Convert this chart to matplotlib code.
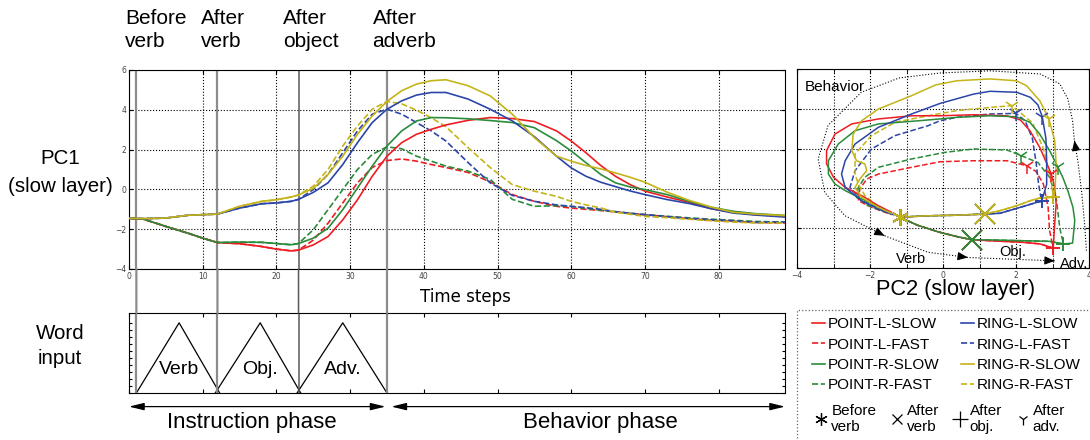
import matplotlib
matplotlib.use('Agg')
import matplotlib.pyplot as plt
import matplotlib.transforms as mtransforms
from matplotlib.lines import Line2D
from matplotlib.patches import Rectangle, ConnectionPatch
from matplotlib.ticker import MultipleLocator
import numpy as np

plt.rcParams['font.family'] = ['Liberation Sans', 'DejaVu Sans']

# ---- PC1 time courses (main panel) ----
t = [0, 2, 5, 8, 10, 12, 15, 18, 20, 22, 23, 25, 27, 29, 31, 33, 35, 37, 39,
     41, 43, 46, 49, 52, 55, 58, 60, 62, 64, 66, 68, 70, 73, 76, 79, 82, 85, 89]

pc1_point_l_slow = [-1.45, -1.5, -1.86, -2.2, -2.45, -2.67, -2.73, -2.87, -3.0, -3.09, -3.05,
                    -2.79, -2.37, -1.53, -0.52, 0.66, 1.67, 2.35, 2.77,
                    3.02, 3.24, 3.47, 3.61, 3.56, 3.41, 2.94, 2.43, 1.84, 1.2, 0.66, 0.24, -0.09,
                    -0.38, -0.65, -0.97, -1.15, -1.27, -1.36]
pc1_point_l_fast = [-1.45, -1.5, -1.86, -2.2, -2.45, -2.67, -2.73, -2.87, -3.0, -3.09, -3.05,
                    -2.55, -1.7, -0.68, 0.33, 1.1, 1.45, 1.53, 1.42,
                    1.25, 1.1, 0.85, 0.38, -0.26, -0.6, -0.85, -0.94, -1.0, -1.06, -1.13, -1.2, -1.27,
                    -1.37, -1.47, -1.55, -1.6, -1.66, -1.69]
pc1_point_r_slow = [-1.45, -1.5, -1.86, -2.2, -2.45, -2.67, -2.65, -2.66, -2.72, -2.78, -2.72,
                    -2.45, -1.95, -1.02, 0.07, 1.17, 2.18, 2.94, 3.44,
                    3.61, 3.6, 3.55, 3.46, 3.36, 3.1, 2.45, 1.93, 1.34, 0.75, 0.33, 0.12, -0.01,
                    -0.26, -0.6, -0.9, -1.1, -1.22, -1.31]
pc1_point_r_fast = [-1.45, -1.5, -1.86, -2.2, -2.45, -2.67, -2.65, -2.66, -2.72, -2.78, -2.72,
                    -2.03, -1.02, -0.01, 1.0, 1.76, 2.14, 2.04, 1.67,
                    1.42, 1.17, 0.92, 0.5, -0.5, -0.85, -0.82, -0.85, -0.95, -1.05, -1.12, -1.2, -1.27,
                    -1.35, -1.43, -1.5, -1.55, -1.61, -1.64]
pc1_ring_l_slow = [-1.45, -1.47, -1.44, -1.3, -1.27, -1.24, -0.94, -0.72, -0.68, -0.6, -0.5,
                   -0.15, 0.33, 1.25, 2.35, 3.36, 4.03, 4.45, 4.74,
                   4.87, 4.87, 4.54, 4.03, 3.44, 2.65, 1.67, 1.08, 0.66, 0.36, 0.14, -0.08, -0.26,
                   -0.51, -0.71, -0.97, -1.19, -1.29, -1.39]
pc1_ring_l_fast = [-1.45, -1.47, -1.44, -1.3, -1.27, -1.24, -0.94, -0.72, -0.68, -0.6, -0.5,
                   -0.01, 0.75, 1.84, 2.94, 3.78, 4.03, 3.78, 3.36,
                   2.94, 2.43, 1.35, 0.33, -0.3, -0.6, -0.78, -0.85, -0.92, -1.0, -1.12, -1.2, -1.27,
                   -1.37, -1.46, -1.53, -1.58, -1.66, -1.64]
pc1_ring_r_slow = [-1.45, -1.47, -1.44, -1.3, -1.27, -1.24, -0.85, -0.6, -0.52, -0.38, -0.28,
                   0.05, 0.75, 1.67, 2.77, 3.69, 4.42, 4.96, 5.29,
                   5.46, 5.51, 5.21, 4.7, 3.78, 2.6, 1.67, 1.42, 1.2, 1.03, 0.83, 0.61, 0.36,
                   -0.14, -0.55, -0.89, -1.15, -1.24, -1.32]
pc1_ring_r_fast = [-1.45, -1.47, -1.44, -1.3, -1.27, -1.24, -0.85, -0.6, -0.52, -0.38, -0.28,
                   0.16, 1.0, 2.18, 3.19, 4.03, 4.42, 4.3, 3.98,
                   3.6, 3.15, 2.1, 1.1, 0.24, -0.09, -0.35, -0.6, -0.78, -0.93, -1.15, -1.25, -1.36,
                   -1.42, -1.5, -1.58, -1.64, -1.69, -1.69]

# ---- PC2 vs PC1 trajectories (right panel) ----
traj_point_l_slow = ([-1.18, -0.7, -0.1, 0.4, 0.79, 1.29, 2.2, 2.66, 2.9, 3.02, 3.06, 3.1, 3.06, 2.97,
                      2.65, 2.38, 2.12, 1.75, 0.84, -0.08, -0.86, -1.77, -2.5, -2.96, -3.19, -3.19,
                      -3.0, -2.68, -2.23, -1.77, -1.41],
                     [-1.45, -1.85, -2.2, -2.43, -2.58, -2.63, -2.71, -2.79, -2.93, -3.0, -1.79, -0.78,
                      0.05, 0.72, 2.06, 2.9, 3.44, 3.65, 3.7, 3.65, 3.65, 3.49, 3.24, 2.73, 1.9, 1.23,
                      0.56, 0.05, -0.36, -0.87, -1.2])
traj_point_l_fast = ([-1.18, -0.7, -0.1, 0.4, 0.79, 1.29, 2.2, 2.66, 2.9, 3.02, 2.92, 2.88, 2.75, 2.55,
                      2.29, 1.75, 0.84, -0.08, -0.86, -1.77, -2.09, -2.28, -2.32, -1.96, -1.41],
                     [-1.45, -1.85, -2.2, -2.43, -2.58, -2.63, -2.71, -2.79, -2.93, -3.0, -2.12, -0.95,
                      0.22, 0.85, 1.14, 1.39, 1.39, 1.34, 1.06, 0.72, 0.47, -0.03, -0.62, -0.95, -1.32])
traj_point_r_slow = ([-1.18, -0.7, -0.1, 0.4, 0.79, 1.29, 2.2, 2.92, 3.3, 3.55, 3.61, 3.56, 3.42, 3.28,
                      3.14, 2.92, 2.65, 2.38, 2.01, 1.29, 0.38, -0.08, -0.86, -1.77, -2.41, -2.87,
                      -3.14, -3.14, -2.96, -2.68, -2.2, -1.77, -1.41],
                     [-1.45, -1.85, -2.2, -2.43, -2.58, -2.59, -2.63, -2.66, -2.79, -2.75, -1.62, -0.95,
                      -0.11, 0.56, 1.1, 1.9, 2.73, 3.32, 3.6, 3.65, 3.57, 3.49, 3.37, 3.24, 2.9, 2.23,
                      1.39, 0.72, 0.22, -0.11, -0.55, -0.95, -1.27])
traj_point_r_fast = ([-1.18, -0.7, -0.1, 0.4, 0.79, 1.29, 2.2, 2.92, 3.3, 3.2, 3.1, 2.92, 2.6, 2.15,
                      1.75, 0.84, 0.05, -0.86, -1.77, -2.14, -2.32, -2.37, -2.05, -1.41],
                     [-1.45, -1.85, -2.2, -2.43, -2.58, -2.59, -2.63, -2.66, -2.79, -2.0, -0.45, 0.56,
                      1.3, 1.64, 1.93, 1.98, 1.81, 1.48, 1.06, 0.56, 0.05, -0.45, -0.87, -1.29])
traj_ring_l_slow = ([-1.18, -0.5, 0.3, 1.15, 1.56, 2.12, 2.57, 2.70, 2.84, 2.84, 2.82, 2.72, 2.6, 2.39,
                     2.02, 1.29, 0.84, -0.08, -0.86, -1.77, -2.41, -2.68, -2.78, -2.68, -2.23, -1.77, -1.36],
                    [-1.45, -1.38, -1.35, -1.29, -1.25, -0.95, -0.7, -0.65, 0.2, 1.4, 2.5, 3.6, 4.2, 4.58,
                     4.83, 4.88, 4.74, 4.27, 3.74, 3.07, 2.23, 1.39, 0.72, 0.05, -0.62, -1.04, -1.32])
traj_ring_l_fast = ([-1.18, -0.5, 0.3, 1.15, 1.56, 2.12, 2.57, 2.70, 2.62, 2.55, 2.45, 2.25, 2.0, 1.29,
                     0.38, -0.08, -0.41, -1.32, -1.96, -2.41, -2.55, -2.23, -1.41],
                    [-1.45, -1.38, -1.35, -1.29, -1.25, -0.95, -0.7, -0.65, 0.2, 1.3, 2.5, 3.4, 3.77, 3.74,
                     3.57, 3.4, 3.15, 2.65, 1.98, 0.89, 0.05, -0.62, -1.29])
traj_ring_r_slow = ([-1.18, -0.5, 0.3, 1.15, 1.56, 2.02, 2.39, 2.66, 3.02, 3.07, 3.1, 3.06, 2.9, 2.65,
                     2.29, 2.01, 1.29, 0.38, -0.2, -0.86, -1.77, -2.23, -2.46, -2.5, -2.37, -2.14,
                     -2.09, -2.28, -2.41, -2.23, -1.77, -1.41],
                    [-1.45, -1.38, -1.35, -1.29, -1.12, -0.87, -0.62, -0.48, -0.45, -0.11, 1.23, 2.4, 3.5,
                     4.41, 5.16, 5.41, 5.5, 5.41, 5.2, 4.66, 3.99, 3.4, 2.73, 1.9, 1.39, 1.23, 0.89,
                     0.47, 0.05, -0.45, -0.95, -1.25])
traj_ring_r_fast = ([-1.18, -0.5, 0.3, 1.15, 1.56, 2.02, 2.39, 2.66, 3.02, 2.95, 2.75, 2.45, 1.88, 1.29,
                     0.38, -0.41, -1.32, -1.96, -2.41, -2.41, -2.32, -2.14, -1.77, -1.41],
                    [-1.45, -1.38, -1.35, -1.29, -1.12, -0.87, -0.62, -0.48, -0.45, 0.5, 2.0, 3.3, 4.16,
                     4.07, 3.91, 3.65, 3.32, 2.65, 1.73, 0.72, 0.22, -0.36, -0.95, -1.29])

# index of trajectory point at: after verb, after object, after adverb
marks_point_l_slow = [4, 9, 13]
marks_point_l_fast = [4, 9, 14]
marks_point_r_slow = [4, 8, 14]
marks_point_r_fast = [4, 8, 13]
marks_ring_l_slow = [3, 7, 11]
marks_ring_l_fast = [3, 7, 12]
marks_ring_r_slow = [3, 8, 12]
marks_ring_r_fast = [3, 8, 12]

# dotted guide loop in the PC plane
loop_pc2 = [3.93, 3.88, 3.8, 3.7, 3.6, 3.55, 3.42, 3.2, 2.66, 1.29, -0.08, -1.2, -2.24, -3.15,
            -3.42, -3.24, -2.69, -1.6, -0.41, 0.68, 1.78, 3.06]
loop_pc1 = [-3.13, -1.79, -0.2, 1.3, 2.4, 3.4, 4.5, 5.25, 5.75, 5.91, 5.8, 5.55, 4.83, 3.16,
            1.48, -0.2, -1.37, -2.38, -3.21, -3.47, -3.55, -3.64]
loop_arrow_idx = [4, 17, 19, 21]

# word input
word_labels = ['Verb', 'Obj.', 'Adv.']
word_t = [[1, 6.8, 12.3], [11.7, 17.8, 23.3], [22.8, 29.0, 35.0]]
word_amp = [0, 1, 0]
event_t = [1, 12, 23, 35]
event_labels = ['Before\nverb', 'After\nverb', 'After\nobject', 'After\nadverb']

series_labels = ['POINT-L-SLOW', 'POINT-L-FAST', 'POINT-R-SLOW', 'POINT-R-FAST',
                 'RING-L-SLOW', 'RING-L-FAST', 'RING-R-SLOW', 'RING-R-FAST']
RED, GREEN, BLUE, YEL = '#ee1d23', '#2a8b3b', '#2c45a8', '#c4b417'
series = [
    (pc1_point_l_slow, traj_point_l_slow, marks_point_l_slow, RED, '-'),
    (pc1_point_l_fast, traj_point_l_fast, marks_point_l_fast, RED, '--'),
    (pc1_point_r_slow, traj_point_r_slow, marks_point_r_slow, GREEN, '-'),
    (pc1_point_r_fast, traj_point_r_fast, marks_point_r_fast, GREEN, '--'),
    (pc1_ring_l_slow, traj_ring_l_slow, marks_ring_l_slow, BLUE, '-'),
    (pc1_ring_l_fast, traj_ring_l_fast, marks_ring_l_fast, BLUE, '--'),
    (pc1_ring_r_slow, traj_ring_r_slow, marks_ring_r_slow, YEL, '-'),
    (pc1_ring_r_fast, traj_ring_r_fast, marks_ring_r_fast, YEL, '--'),
]

W, H = 1090, 440
fig = plt.figure(figsize=(W / 100, H / 100), dpi=100)
ax = fig.add_axes([129 / W, 1 - 269 / H, 656 / W, 199 / H])
axw = fig.add_axes([129 / W, 1 - 393 / H, 656 / W, 80 / H])
axr = fig.add_axes([797 / W, 1 - 268 / H, 292 / W, 199 / H])

# ---- main panel ----
for i in [1, 3, 5, 7, 0, 2, 4, 6]:
    pc1, traj, marks, col, ls = series[i]
    ax.plot(t, pc1, color=col, ls=ls, lw=1.2, zorder=3)
ax.set_xlim(0, 89)
ax.set_ylim(-4, 6)
ax.xaxis.set_major_locator(MultipleLocator(10))
ax.yaxis.set_major_locator(MultipleLocator(2))
ax.grid(True, ls=':', color='k', lw=0.8)
ax.tick_params(direction='in', top=True, right=True, length=3, labelsize=5.5,
               labelcolor='#444', pad=2)
for lab in ax.get_xticklabels() + ax.get_yticklabels():
    lab.set_family('DejaVu Sans')
fig.text(465 / W, 1 - 297 / H, 'Time steps', ha='center', va='center', fontsize=12,
         family='DejaVu Sans')

# ---- word input panel ----
for wt, wl in zip(word_t, word_labels):
    axw.plot(wt, word_amp, color='k', lw=0.9)
    axw.text(wt[1], 0.33, wl, ha='center', va='center', fontsize=14)
axw.set_xlim(0, 89)
axw.set_ylim(0, 1.14)
axw.xaxis.set_major_locator(MultipleLocator(10))
axw.set_yticks(np.arange(0, 1.01, 0.1))
axw.tick_params(axis='x', direction='in', top=True, length=3, labelbottom=False)
axw.tick_params(axis='y', direction='in', right=True, length=2, labelleft=False)

for i, ev in enumerate(event_t):
    c = '#5a5a5a' if i == 2 else '#8c8c8c'
    lw = 1.1 if i == 2 else 1.6
    ax.axvline(ev, color=c, lw=lw, zorder=2)
    axw.axvline(ev, color=c, lw=lw, zorder=2)
    fig.add_artist(ConnectionPatch(xyA=(ev, -4), coordsA='data', axesA=ax,
                                   xyB=(ev, 1.14), coordsB='data', axesB=axw,
                                   color=c, lw=lw))

hdr = mtransforms.blended_transform_factory(ax.transData, fig.transFigure)
for ev_x, lab in zip([-0.5, 9.8, 20.95, 33.05], event_labels):
    ax.text(ev_x, 1 - 9 / H, lab, transform=hdr, ha='left', va='top', fontsize=15,
            linespacing=1.28)

fig.text(60 / W, 1 - 172 / H, 'PC1\n(slow layer)', ha='center', va='center', fontsize=14.8,
         linespacing=1.6)
fig.text(60 / W, 1 - 346 / H, 'Word\ninput', ha='center', va='center', fontsize=14.8,
         linespacing=1.4)

xt = axw.get_xaxis_transform()
arr = dict(arrowstyle='<|-|>,head_length=0.9,head_width=0.22', color='k', lw=0.9,
           shrinkA=0, shrinkB=0)
axw.annotate('', xy=(0, -0.17), xytext=(34.8, -0.17), xycoords=xt, textcoords=xt,
             arrowprops=arr, annotation_clip=False)
axw.annotate('', xy=(35.6, -0.17), xytext=(89, -0.17), xycoords=xt, textcoords=xt,
             arrowprops=arr, annotation_clip=False)
axw.text(16.7, -0.37, 'Instruction phase', transform=xt, ha='center', va='center',
         fontsize=16)
axw.text(64, -0.37, 'Behavior phase', transform=xt, ha='center', va='center', fontsize=16)

# ---- PC plane panel ----
for i in [1, 3, 5, 7, 0, 2, 4, 6]:
    pc1, (p2, p1), marks, col, ls = series[i]
    axr.plot(p2, p1, color=col, ls=ls, lw=1.1, zorder=3)
for i in range(8):
    pc1, (p2, p1), marks, col, ls = series[i]
    axr.plot(p2[0], p1[0], marker=(6, 2, 0), ms=12, mec=col, mew=1.1, ls='none', zorder=5)
    axr.plot(p2[marks[0]], p1[marks[0]], marker='x', ms=14, mec=col, mew=1.2, ls='none', zorder=5)
    axr.plot(p2[marks[1]], p1[marks[1]], marker='+', ms=10, mec=col, mew=1.2, ls='none', zorder=5)
    axr.plot(p2[marks[2]], p1[marks[2]], marker='1', ms=11, mec=col, mew=1.1, ls='none', zorder=5)

axr.plot(loop_pc2, loop_pc1, ls=':', color='k', lw=0.8, zorder=2)
for k in loop_arrow_idx:
    x1, y1 = loop_pc2[k], loop_pc1[k]
    x0, y0 = loop_pc2[k - 1], loop_pc1[k - 1]
    d = np.hypot(x1 - x0, y1 - y0)
    axr.annotate('', xy=(x1, y1), xytext=(x1 - 0.02 * (x1 - x0) / d, y1 - 0.02 * (y1 - y0) / d),
                 arrowprops=dict(arrowstyle='-|>,head_length=0.6,head_width=0.25', color='k',
                                 lw=0.8, shrinkA=0, shrinkB=0, mutation_scale=10))

axr.text(-3.78, 5.1, 'Behavior', ha='left', va='center', fontsize=11)
axr.text(-0.88, -3.55, 'Verb', ha='center', va='center', fontsize=10.5)
axr.text(1.92, -3.2, 'Obj.', ha='center', va='center', fontsize=10.5)
axr.text(3.6, -3.78, 'Adv.', ha='center', va='center', fontsize=10.5, clip_on=False)

axr.set_xlim(-4, 4)
axr.set_ylim(-4, 6)
axr.xaxis.set_major_locator(MultipleLocator(2))
axr.xaxis.set_minor_locator(MultipleLocator(1))
axr.yaxis.set_major_locator(MultipleLocator(2))
axr.grid(True, which='both', ls=':', color='k', lw=0.8)
axr.tick_params(which='both', direction='in', top=True, right=True, length=3, labelsize=5.5,
                labelcolor='#444', labelleft=False, pad=2)
for lab in axr.get_xticklabels():
    lab.set_family('DejaVu Sans')
fig.text(956 / W, 1 - 289 / H, 'PC2 (slow layer)', ha='center', va='center', fontsize=15.7)

# ---- legends ----
line_handles = [Line2D([], [], color=s[3], ls=s[4], lw=1.2) for s in series]
fig.legend(line_handles, series_labels, loc='upper left', bbox_to_anchor=(806 / W, 1 - 311 / H),
           ncol=2, fontsize=11, frameon=False, handlelength=0.85, handletextpad=0.2,
           columnspacing=1.4, labelspacing=0.42, borderpad=0.4, borderaxespad=0)

mark_handles = [Line2D([], [], ls='none', marker=(6, 2, 0), ms=9, mec='k', mew=0.9),
                Line2D([], [], ls='none', marker='x', ms=7, mec='k', mew=0.9),
                Line2D([], [], ls='none', marker='+', ms=11, mec='k', mew=0.9),
                Line2D([], [], ls='none', marker='1', ms=8, mec='k', mew=0.9)]
mark_labels = ['Before\nverb', 'After\nverb', 'After\nobj.', 'After\nadv.']
fig.legend(mark_handles, mark_labels, loc='upper left', bbox_to_anchor=(813 / W, 1 - 401 / H),
           ncol=4, fontsize=11, frameon=False, handlelength=0.7, handletextpad=0.3,
           columnspacing=1.0, borderpad=0.2, borderaxespad=0)

fig.add_artist(Rectangle((797 / W, -0.05), 0.3, 1 - 310 / H + 0.05, transform=fig.transFigure,
                         fill=False, ls=':', lw=0.9, ec='#666'))

fig.savefig('out.png', dpi=100)
